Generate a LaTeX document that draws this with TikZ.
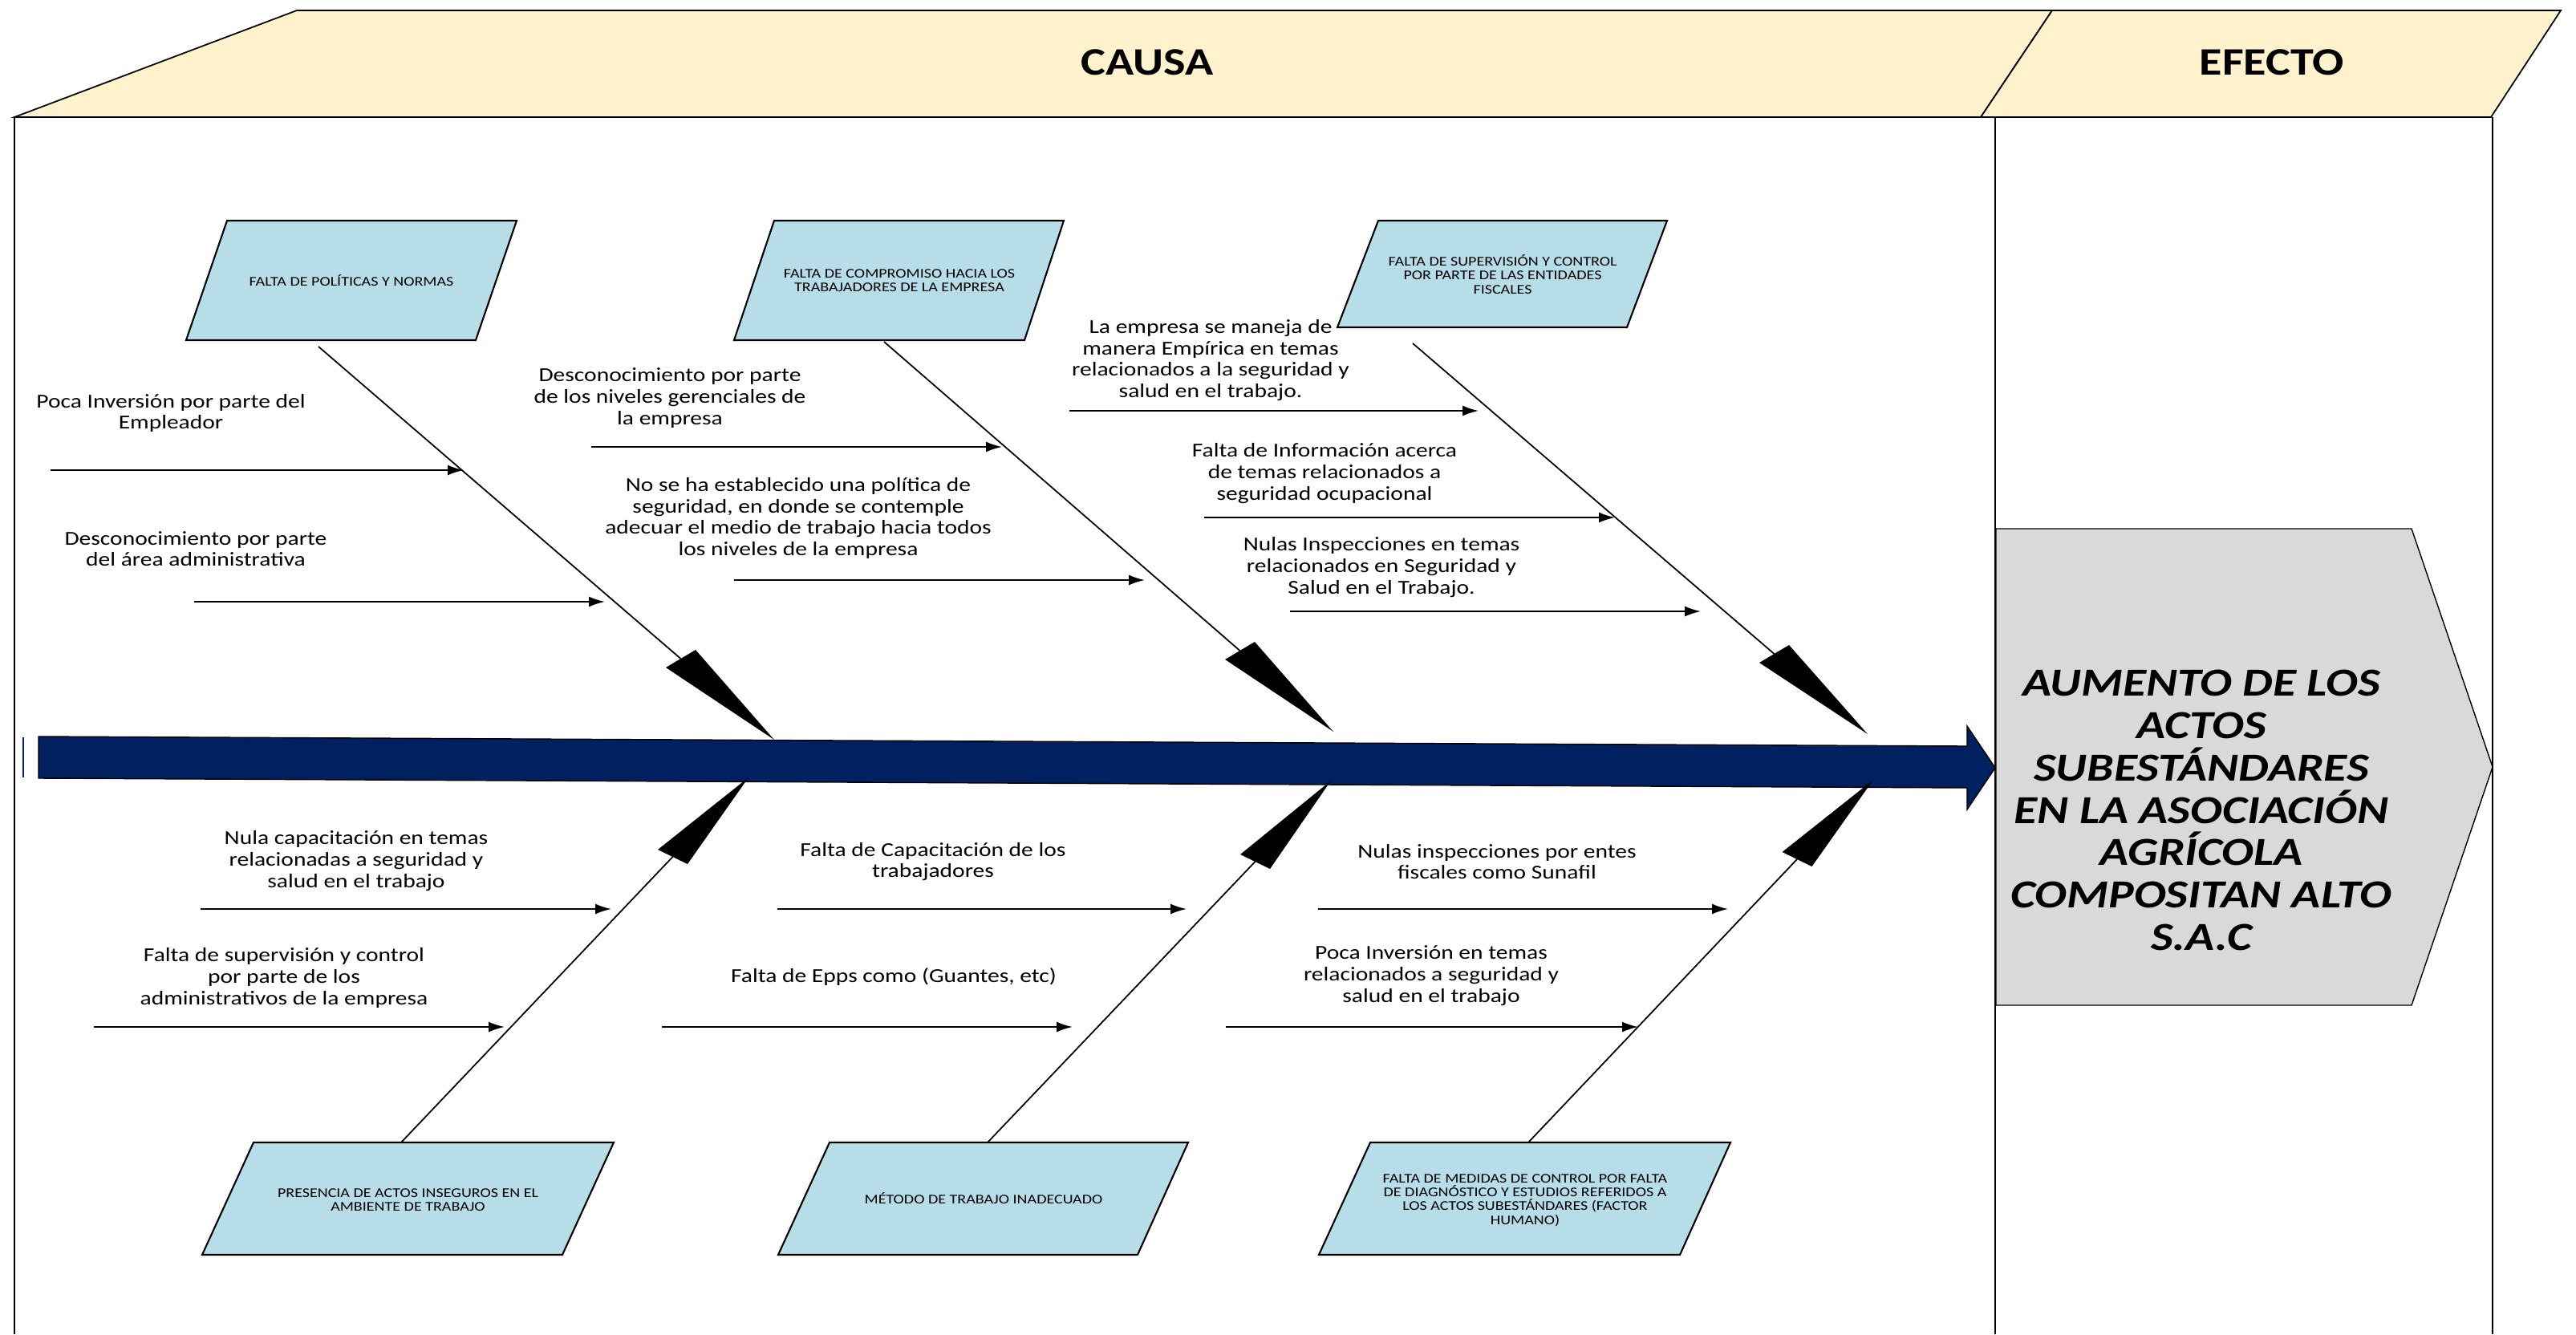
\documentclass[tikz,border=0pt]{standalone}
\usepackage{fontspec}
\setmainfont{Carlito}
\newfontfamily\widefont{Carlito}[FakeStretch=1.2]
\usetikzlibrary{arrows.meta,calc}
\definecolor{hdrfill}{HTML}{FFF2CC}
\definecolor{boxblue}{HTML}{B7DEE8}
\definecolor{effgray}{HTML}{D9D9D9}
\definecolor{navy}{HTML}{002060}

\begin{document}
\begin{tikzpicture}[
	hdr/.style={draw,line width=0.5pt,fill=hdrfill},
	causebox/.style={draw,line width=0.6pt,fill=boxblue},
	boxtxt/.style={font=\widefont\fontsize{4.75}{4.9}\selectfont,align=center,inner sep=0pt},
	txt/.style={font=\widefont\fontsize{7}{7.6}\selectfont,align=center,inner sep=0pt},
	cause/.style={line width=0.55pt,-{Latex[length=2mm,width=1.3mm]}},
	bone/.style={line width=0.5pt},
	spike/.style={fill=black},
	frameline/.style={line width=0.5pt}
]
	\useasboundingbox (0,0) rectangle (32.11,-16.63);

	%header
	\filldraw[hdr] (0.18,-1.46)--(3.70,-0.13)--(25.58,-0.13)--(24.69,-1.46)--cycle;
	\filldraw[hdr] (24.69,-1.46)--(25.58,-0.13)--(31.92,-0.13)--(31.05,-1.46)--cycle;
	\node[font=\widefont\fontsize{13.8}{15}\selectfont\bfseries] (causa)  at (14.30,-0.78) {CAUSA};
	\node[font=\widefont\fontsize{13.8}{15}\selectfont\bfseries] (efecto) at (28.32,-0.78) {EFECTO};
	\draw[frameline] (0.18,-1.46)--(0.18,-16.63);		%left
	\draw[frameline] (24.87,-1.46)--(24.87,-16.63);		%middle
	\draw[frameline] (31.07,-1.46)--(31.07,-16.63);		%right

	%effect box
	\filldraw[fill=effgray,line width=0.4pt] (24.88,-6.59)--(30.06,-6.59)--(31.07,-9.56)--(30.06,-12.53)--(24.88,-12.53)--cycle;
	\node[font=\widefont\fontsize{14.1}{15}\selectfont\bfseries\itshape,align=center] (aumento) at (27.44,-10.10)
		{AUMENTO DE LOS\\ACTOS\\SUBESTÁNDARES\\EN LA ASOCIACIÓN\\AGRÍCOLA\\COMPOSITAN ALTO\\S.A.C};

	%spine
	\draw[navy,line width=0.6pt] (0.29,-9.19)--(0.29,-9.69);
	\filldraw[fill=navy,draw=black,line width=0.4pt] (0.48,-9.18)--(24.52,-9.30)--(24.52,-9.05)--(24.87,-9.57)
		--(24.52,-10.09)--(24.52,-9.82)--(0.48,-9.70)--cycle;

	%upper boxes
	\filldraw[causebox] (2.32,-4.24)--(2.83,-2.75)--(6.44,-2.75)--(5.93,-4.24)--cycle;
	\node[boxtxt] (politicas) at (4.38,-3.50) {FALTA DE POLÍTICAS Y NORMAS};
	\filldraw[causebox] (9.15,-4.24)--(9.65,-2.75)--(13.26,-2.75)--(12.77,-4.24)--cycle;
	\node[boxtxt] (compromiso) at (11.21,-3.50) {FALTA DE COMPROMISO HACIA LOS\\TRABAJADORES DE LA EMPRESA};
	\filldraw[causebox] (16.67,-4.08)--(17.18,-2.75)--(20.78,-2.75)--(20.28,-4.08)--cycle;
	\node[boxtxt] (supervision) at (18.73,-3.42) {FALTA DE SUPERVISIÓN Y CONTROL\\POR PARTE DE LAS ENTIDADES\\FISCALES};

	%lower boxes
	\filldraw[causebox] (2.52,-15.64)--(3.16,-14.24)--(7.65,-14.24)--(7.01,-15.64)--cycle;
	\node[boxtxt] (presencia) at (5.085,-14.96) {PRESENCIA DE ACTOS INSEGUROS EN EL\\AMBIENTE DE TRABAJO};
	\filldraw[causebox] (9.70,-15.64)--(10.34,-14.24)--(14.81,-14.24)--(14.18,-15.64)--cycle;
	\node[boxtxt] (metodo) at (12.26,-14.94) {MÉTODO DE TRABAJO INADECUADO};
	\filldraw[causebox] (16.44,-15.64)--(17.08,-14.24)--(21.57,-14.24)--(20.94,-15.64)--cycle;
	\node[boxtxt] (medidas) at (19.01,-14.96) {FALTA DE MEDIDAS DE CONTROL POR FALTA\\DE DIAGNÓSTICO Y ESTUDIOS REFERIDOS A\\LOS ACTOS SUBESTÁNDARES (FACTOR\\HUMANO)};

	%bones
	\coordinate (u1s) at (3.97,-4.32);	\coordinate (u1m) at (8.485,-8.21);	\coordinate (u1t) at (9.65,-9.22);
	\coordinate (u2s) at (11.02,-4.26);	\coordinate (u2m) at (15.455,-8.11);	\coordinate (u2t) at (16.62,-9.12);
	\coordinate (u3s) at (17.61,-4.28);	\coordinate (u3m) at (22.115,-8.15);	\coordinate (u3t) at (23.28,-9.15);
	\coordinate (l1s) at (5.00,-14.24);	\coordinate (l1m) at (8.385,-10.68);	\coordinate (l1t) at (9.33,-9.69);
	\coordinate (l2s) at (12.31,-14.24);	\coordinate (l2m) at (15.645,-10.74);	\coordinate (l2t) at (16.59,-9.73);
	\coordinate (l3s) at (19.05,-14.24);	\coordinate (l3m) at (22.40,-10.71);	\coordinate (l3t) at (23.35,-9.72);
	\draw[bone] (u1s)--(u1m);
	\draw[bone] (u2s)--(u2m);
	\draw[bone] (u3s)--(u3m);
	\draw[bone] (l1s)--(l1m);
	\draw[bone] (l2s)--(l2m);
	\draw[bone] (l3s)--(l3m);
	\fill[spike] (u1t)--($(u1m)+(0.185,0.11)$)--($(u1m)-(0.185,0.11)$)--cycle;
	\fill[spike] (u2t)--($(u2m)+(0.185,0.11)$)--($(u2m)-(0.185,0.11)$)--cycle;
	\fill[spike] (u3t)--($(u3m)+(0.185,0.11)$)--($(u3m)-(0.185,0.11)$)--cycle;
	\fill[spike] (l1t)--($(l1m)+(0.185,-0.09)$)--($(l1m)-(0.185,-0.09)$)--cycle;
	\fill[spike] (l2t)--($(l2m)+(0.185,-0.09)$)--($(l2m)-(0.185,-0.09)$)--cycle;
	\fill[spike] (l3t)--($(l3m)+(0.185,-0.09)$)--($(l3m)-(0.185,-0.09)$)--cycle;

	%causes, top half
	\node[txt] (inversion) at (2.13,-5.15) {Poca Inversión por parte del\\Empleador};
	\coordinate (a1) at (0.63,-5.86);	\draw[cause] (a1)--++(5.15,0);
	\node[txt] (adminis) at (2.44,-6.84) {Desconocimiento por parte\\del área administrativa};
	\coordinate (a2) at (2.42,-7.50);	\draw[cause] (a2)--++(5.12,0);
	\node[txt] (gerencia) at (8.35,-4.96) {Desconocimiento por parte\\de los niveles gerenciales de\\la empresa};
	\coordinate (a3) at (7.37,-5.57);	\draw[cause] (a3)--++(5.12,0);
	\node[txt] (politica) at (9.95,-6.46) {No se ha establecido una política de\\seguridad, en donde se contemple\\adecuar el medio de trabajo hacia todos\\los niveles de la empresa};
	\coordinate (a4) at (9.15,-7.23);	\draw[cause] (a4)--++(5.12,0);
	\node[txt] (empirica) at (15.09,-4.49) {La empresa se maneja de\\manera Empírica en temas\\relacionados a la seguridad y\\salud en el trabajo.};
	\coordinate (a5) at (13.33,-5.12);	\draw[cause] (a5)--++(5.10,0);
	\node[txt] (informacion) at (16.51,-5.90) {Falta de Información acerca\\de temas relacionados a\\seguridad ocupacional};
	\coordinate (a6) at (15.01,-6.45);	\draw[cause] (a6)--++(5.12,0);
	\node[txt] (inspeccion) at (17.22,-7.07) {Nulas Inspecciones en temas\\relacionados en Seguridad y\\Salud en el Trabajo.};
	\coordinate (a7) at (16.08,-7.62);	\draw[cause] (a7)--++(5.12,0);

	%causes, bottom half
	\node[txt] (capacita) at (4.44,-10.73) {Nula capacitación en temas\\relacionadas a seguridad y\\salud en el trabajo};
	\coordinate (a8) at (2.50,-11.33);	\draw[cause] (a8)--++(5.12,0);
	\node[txt] (control) at (3.54,-12.19) {Falta de supervisión y control\\por parte de los\\administrativos de la empresa};
	\coordinate (a9) at (1.17,-12.80);	\draw[cause] (a9)--++(5.12,0);
	\node[txt] (trabaja) at (11.63,-10.74) {Falta de Capacitación de los\\trabajadores};
	\coordinate (a10) at (9.69,-11.33);	\draw[cause] (a10)--++(5.10,0);
	\node[txt] (epps) at (11.14,-12.17) {Falta de Epps como (Guantes, etc)};
	\coordinate (a11) at (8.25,-12.80);	\draw[cause] (a11)--++(5.12,0);
	\node[txt] (sunafil) at (18.66,-10.74) {Nulas inspecciones por entes\\fiscales como Sunafil};
	\coordinate (a12) at (16.43,-11.33);	\draw[cause] (a12)--++(5.11,0);
	\node[txt] (temas) at (17.84,-12.16) {Poca Inversión en temas\\relacionados a seguridad y\\salud en el trabajo};
	\coordinate (a13) at (15.28,-12.80);	\draw[cause] (a13)--++(5.14,0);
\end{tikzpicture}
\end{document}
